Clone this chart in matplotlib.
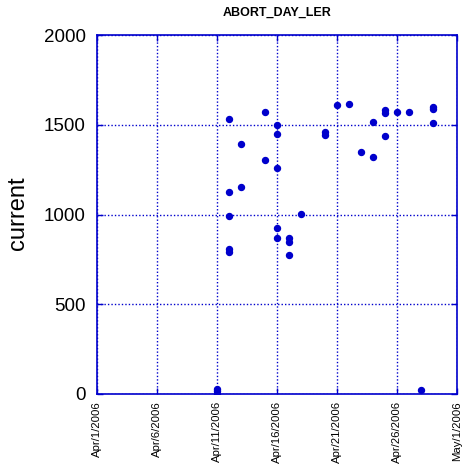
import matplotlib
matplotlib.use("Agg")
import matplotlib.pyplot as plt
import matplotlib.dates as mdates
from matplotlib.ticker import FuncFormatter, FixedLocator
from datetime import datetime, timedelta

plt.rcParams['font.family'] = ['Liberation Sans', 'DejaVu Sans']

# data
dates = ["2006-04-11", "2006-04-11", "2006-04-11",
         "2006-04-12", "2006-04-12", "2006-04-12", "2006-04-12", "2006-04-12",
         "2006-04-13", "2006-04-13",
         "2006-04-15", "2006-04-15",
         "2006-04-16", "2006-04-16", "2006-04-16", "2006-04-16", "2006-04-16",
         "2006-04-17", "2006-04-17", "2006-04-17",
         "2006-04-18",
         "2006-04-20", "2006-04-20",
         "2006-04-21", "2006-04-22", "2006-04-23",
         "2006-04-24", "2006-04-24",
         "2006-04-25", "2006-04-25", "2006-04-25",
         "2006-04-26", "2006-04-27",
         "2006-04-28",
         "2006-04-29", "2006-04-29", "2006-04-29"]
values = [30, 15, 0,
          1530, 1124, 990, 808, 793,
          1391, 1151,
          1571, 1302,
          1497, 1447, 1257, 923, 867,
          867, 845, 773,
          1001,
          1460, 1445,
          1608, 1614, 1347,
          1514, 1319,
          1580, 1565, 1436,
          1569, 1569,
          25,
          1600, 1585, 1508]
title = "ABORT_DAY_LER"
ylabel = "current"
x_start = "2006-04-01"
x_end = "2006-05-01"
y_ticks = [0, 500, 1000, 1500, 2000]

blue = '#0000cc'
W, H = 465, 468
fig = plt.figure(figsize=(W / 100, H / 100), dpi=100)
ax = fig.add_axes([97 / W, 1 - 394 / H, 360 / W, 359 / H])

xd = [datetime.strptime(d, "%Y-%m-%d") for d in dates]
ax.plot(xd, values, linestyle='none', marker='o', ms=4.3, color=blue, mec=blue)

x0 = datetime.strptime(x_start, "%Y-%m-%d")
x1 = datetime.strptime(x_end, "%Y-%m-%d")
ax.set_xlim(x0, x1)
ax.set_ylim(0, 2000)
xt = [mdates.date2num(x0 + timedelta(days=5 * i)) for i in range(7)]
ax.xaxis.set_major_locator(FixedLocator(xt))
ax.xaxis.set_major_formatter(FuncFormatter(
    lambda v, p: (lambda d: f"{d:%b}/{d.day}/{d.year}")(mdates.num2date(v))))
ax.set_yticks(y_ticks)

for s in ax.spines.values():
    s.set_color(blue)
    s.set_linewidth(1.2)
ax.tick_params(direction='in', length=4, width=1, color=blue,
               top=True, right=True)
ax.tick_params(axis='y', labelsize=13.5, pad=8)
ax.tick_params(axis='x', labelsize=8.2, pad=5, labelrotation=90)
ax.grid(True, color=blue, linestyle=(0, (1, 1.5)), linewidth=1)
ax.set_axisbelow(True)

fig.text(277 / W, 1 - 13 / H, title, ha='center', va='center',
         fontsize=9, fontweight='bold')
fig.text(18 / W, 1 - 213 / H, ylabel, ha='center', va='center',
         rotation=90, fontsize=17)

fig.savefig("out.png", dpi=100)
